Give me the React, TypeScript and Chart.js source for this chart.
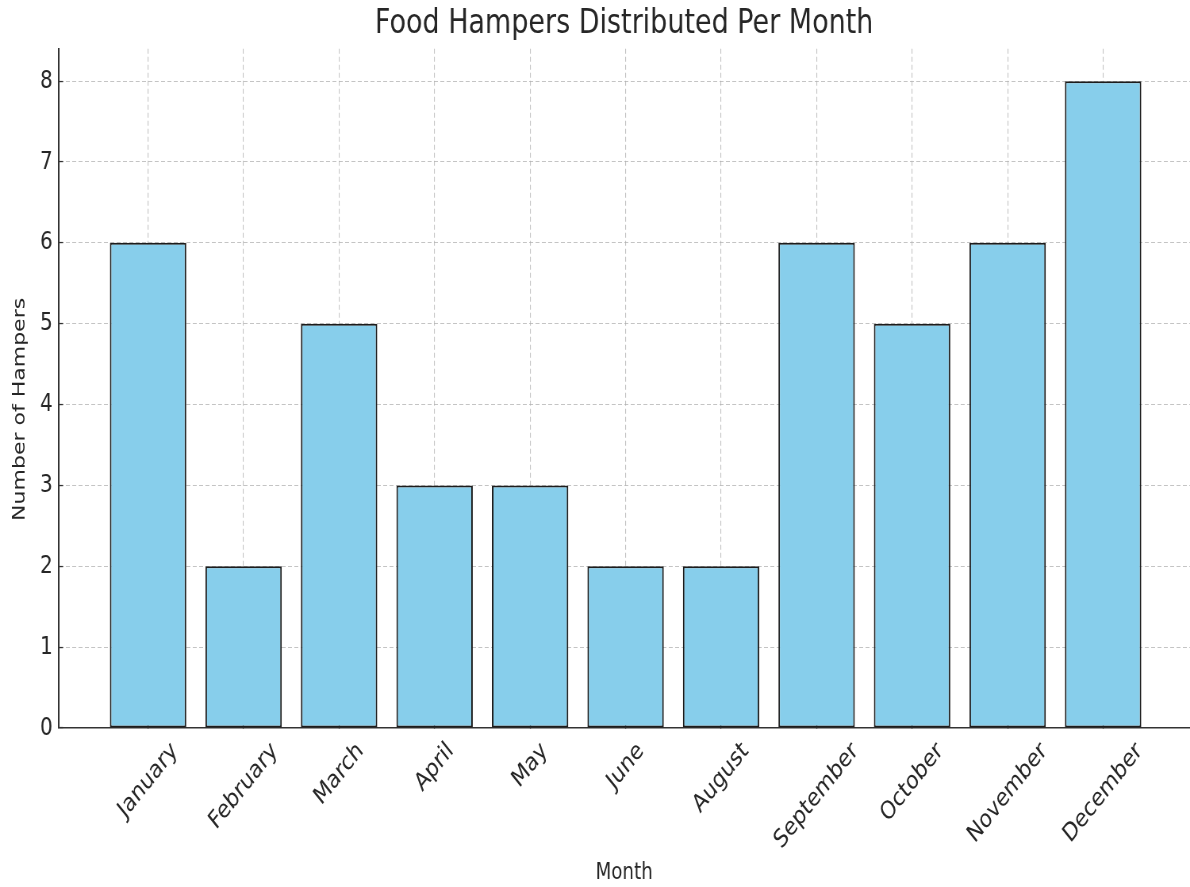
import React, { useEffect, useRef } from 'react';
import { Chart, registerables } from 'chart.js';

Chart.register(...registerables);

const months = ['January', 'February', 'March', 'April', 'May', 'June', 'August', 'September', 'October', 'November', 'December'];
const hampers = [6, 2, 5, 3, 3, 2, 2, 6, 5, 6, 8];
const yTicks = [0, 1, 2, 3, 4, 5, 6, 7, 8];

const LOGICAL_W = 1500;
const DISPLAY_W = 1190;
const H = 887;

export default function App() {
  const ref = useRef<HTMLCanvasElement>(null);

  useEffect(() => {
    const canvas = ref.current;
    if (!canvas) return;
    const font = "'DejaVu Sans', sans-serif";
    const textColor = '#262626';
    const gridColor = 'rgba(176,176,176,0.75)';
    const spineColor = '#333333';

    const rotatedXLabels = {
      id: 'rotatedXLabels',
      afterDraw(chart: any) {
        const sx = chart.scales.x;
        const ctx = chart.ctx;
        const size = 25;
        ctx.save();
        ctx.font = `${size}px ${font}`;
        ctx.fillStyle = textColor;
        ctx.textAlign = 'center';
        ctx.textBaseline = 'middle';
        months.forEach((m, i) => {
          const px = sx.getPixelForValue(i);
          const w = ctx.measureText(m).width;
          const h = size * 1.164;
          const cy = sx.top + 9 + ((w + h) * Math.SQRT1_2) / 2;
          ctx.save();
          ctx.translate(px, cy);
          ctx.rotate(-Math.PI / 4);
          ctx.fillText(m, 0, 0);
          ctx.restore();
        });
        ctx.restore();
      },
    };

    const chart = new Chart(canvas, {
      type: 'bar',
      data: {
        datasets: [
          {
            data: months.map((_, i) => ({ x: i, y: hampers[i] })),
            backgroundColor: '#87CEEB',
            borderColor: '#1c1c1c',
            borderWidth: 2,
            borderSkipped: false,
            categoryPercentage: 1,
            barPercentage: 0.8,
          } as any,
        ],
      },
      options: {
        responsive: false,
        devicePixelRatio: 1,
        animation: false,
        layout: { padding: 0 },
        plugins: {
          legend: { display: false },
          tooltip: { enabled: false },
          title: {
            display: true,
            fullSize: false,
            text: 'Food Hampers Distributed Per Month',
            color: textColor,
            font: { family: font, size: 34, weight: 'normal' },
            padding: { top: 4, bottom: 4 },
          },
        },
        scales: {
          x: {
            type: 'linear',
            min: -0.94,
            max: 10.91,
            offset: false,
            z: 1,
            afterBuildTicks(s: any) {
              s.ticks = months.map((_, i) => ({ value: i }));
            },
            afterFit(s: any) {
              s.height = 159;
            },
            ticks: { display: false },
            grid: { offset: false, color: gridColor, lineWidth: 1.1, tickLength: -6, tickColor: spineColor, tickWidth: 1.3 },
            border: { display: true, color: spineColor, width: 1.6, dash: [5, 3] },
            title: {
              display: true,
              text: 'Month',
              color: textColor,
              font: { family: font, size: 23 },
              padding: { top: 0, bottom: 0 },
            },
          },
          y: {
            type: 'linear',
            min: 0,
            max: 8.4,
            z: 1,
            afterBuildTicks(s: any) {
              s.ticks = yTicks.map((v) => ({ value: v }));
            },
            afterFit(s: any) {
              s.width = 73.5;
            },
            ticks: { padding: 13, color: textColor, font: { family: font, size: 25 } },
            grid: { color: gridColor, lineWidth: 1.1, tickLength: -6, tickColor: spineColor, tickWidth: 1.3 },
            border: { display: true, color: spineColor, width: 2, dash: [5, 3] },
            title: {
              display: true,
              text: 'Number of Hampers      ',
              color: textColor,
              font: { family: font, size: 22 },
              padding: { top: 12, bottom: 0 },
            },
          },
        },
      } as any,
      plugins: [rotatedXLabels],
    });

    return () => chart.destroy();
  }, []);

  return (
    <div style={{ position: 'absolute', left: 0, top: 0, width: DISPLAY_W, height: H }}>
      <canvas
        ref={ref}
        width={LOGICAL_W}
        height={H}
        style={{ width: `${DISPLAY_W}px`, height: `${H}px`, display: 'block' }}
      />
    </div>
  );
}
